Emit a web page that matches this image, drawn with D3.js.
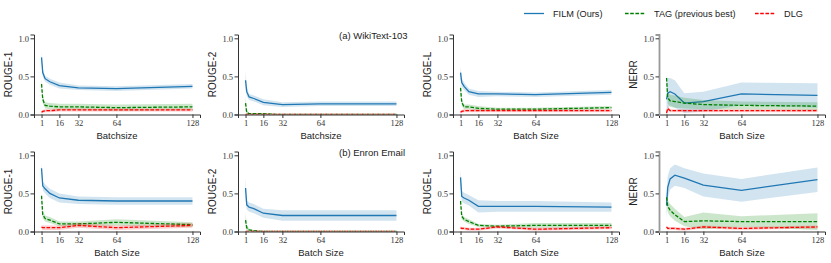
<!DOCTYPE html>
<html lang="en">
<head>
  <meta charset="UTF-8">
  <title>FILM vs TAG vs DLG</title>
  <style>
    body, html { margin: 0; padding: 0; background-color: white; }
    svg { display: block; }
    .tick text { font-family: 'Liberation Serif', serif; font-size: 8.5px; fill: #333; }
    .lbl { font-family: 'Liberation Sans', Arial, sans-serif; fill: #222; }
  </style>
</head>
<body>
  <svg id="svg" width="831" height="263"></svg>
  <script src="https://d3js.org/d3.v7.min.js"></script>
  <script>
    const batch = [1, 2, 4, 8, 16, 32, 64, 128]
    const xTicks = [1, 16, 32, 64, 128]
    const yTicks = [0, 0.5, 1.0]
    const metrics = ['ROUGE-1', 'ROUGE-2', 'ROUGE-L', 'NERR']
    const methods = ['FILM (Ours)', 'TAG (previous best)', 'DLG']
    const rowTitles = ['(a) WikiText-103', '(b) Enron Email']
    const rowXLabels = [['Batchsize', 'Batchsize', 'Batch Size', 'Batch Size'],
                        ['Batch Size', 'Batch Size', 'Batch Size', 'Batch Size']]

    // (a) WikiText-103, one list per metric: R1, R2, RL, NERR
    const wikiFilm = [
      [0.75, 0.55, 0.47, 0.43, 0.38, 0.35, 0.34, 0.37],
      [0.45, 0.30, 0.23, 0.21, 0.16, 0.13, 0.14, 0.14],
      [0.55, 0.42, 0.37, 0.30, 0.27, 0.27, 0.26, 0.29],
      [0.20, 0.28, 0.30, 0.27, 0.15, 0.17, 0.27, 0.25]]
    const wikiFilmSd = [
      [0.07, 0.05, 0.04, 0.04, 0.04, 0.03, 0.03, 0.03],
      [0.12, 0.06, 0.04, 0.04, 0.04, 0.03, 0.03, 0.03],
      [0.08, 0.06, 0.05, 0.04, 0.04, 0.03, 0.03, 0.03],
      [0.28, 0.20, 0.18, 0.18, 0.13, 0.13, 0.15, 0.16]]
    const wikiTag = [
      [0.40, 0.20, 0.12, 0.11, 0.10, 0.10, 0.09, 0.10],
      [0.15, 0.03, 0.01, 0.01, 0.01, 0.00, 0.00, 0.00],
      [0.35, 0.16, 0.10, 0.10, 0.08, 0.07, 0.07, 0.09],
      [0.48, 0.22, 0.18, 0.17, 0.15, 0.13, 0.12, 0.11]]
    const wikiTagSd = [
      [0.07, 0.05, 0.04, 0.04, 0.04, 0.04, 0.04, 0.04],
      [0.10, 0.03, 0.01, 0.01, 0.01, 0.00, 0.00, 0.00],
      [0.09, 0.05, 0.03, 0.03, 0.03, 0.02, 0.02, 0.02],
      [0.05, 0.08, 0.08, 0.08, 0.07, 0.06, 0.05, 0.05]]
    const wikiDlg = [
      [0.03, 0.04, 0.05, 0.05, 0.06, 0.06, 0.06, 0.06],
      [0.00, 0.00, 0.00, 0.00, 0.00, 0.00, 0.00, 0.00],
      [0.03, 0.04, 0.05, 0.05, 0.05, 0.05, 0.05, 0.05],
      [0.02, 0.08, 0.05, 0.05, 0.05, 0.05, 0.05, 0.05]]
    const wikiDlgSd = [
      [0.02, 0.02, 0.02, 0.02, 0.02, 0.02, 0.02, 0.02],
      [0.00, 0.00, 0.00, 0.00, 0.00, 0.00, 0.00, 0.00],
      [0.02, 0.02, 0.02, 0.02, 0.02, 0.02, 0.02, 0.02],
      [0.02, 0.03, 0.02, 0.02, 0.02, 0.02, 0.02, 0.02]]

    // (b) Enron Email
    const enronFilm = [
      [0.83, 0.60, 0.56, 0.50, 0.44, 0.41, 0.40, 0.40],
      [0.57, 0.35, 0.32, 0.30, 0.24, 0.21, 0.21, 0.21],
      [0.71, 0.46, 0.44, 0.41, 0.33, 0.33, 0.33, 0.32],
      [0.34, 0.58, 0.69, 0.74, 0.70, 0.61, 0.54, 0.68]]
    const enronFilmSd = [
      [0.07, 0.06, 0.06, 0.06, 0.06, 0.05, 0.05, 0.05],
      [0.14, 0.06, 0.06, 0.06, 0.06, 0.07, 0.07, 0.07],
      [0.11, 0.07, 0.07, 0.07, 0.08, 0.07, 0.07, 0.06],
      [0.18, 0.15, 0.14, 0.14, 0.13, 0.15, 0.15, 0.16]]
    const enronTag = [
      [0.47, 0.22, 0.17, 0.15, 0.10, 0.10, 0.12, 0.09],
      [0.15, 0.05, 0.02, 0.01, 0.00, 0.00, 0.00, 0.00],
      [0.40, 0.20, 0.16, 0.13, 0.08, 0.07, 0.08, 0.08],
      [0.45, 0.33, 0.28, 0.22, 0.13, 0.14, 0.13, 0.13]]
    const enronTagSd = [
      [0.05, 0.05, 0.04, 0.04, 0.03, 0.03, 0.04, 0.03],
      [0.10, 0.04, 0.02, 0.01, 0.00, 0.00, 0.00, 0.00],
      [0.05, 0.04, 0.03, 0.03, 0.02, 0.02, 0.03, 0.03],
      [0.06, 0.08, 0.08, 0.08, 0.06, 0.11, 0.07, 0.11]]
    const enronDlg = [
      [0.06, 0.05, 0.05, 0.05, 0.05, 0.08, 0.05, 0.08],
      [0.00, 0.00, 0.00, 0.00, 0.00, 0.00, 0.00, 0.00],
      [0.05, 0.04, 0.04, 0.03, 0.03, 0.06, 0.03, 0.05],
      [0.06, 0.04, 0.04, 0.04, 0.03, 0.06, 0.04, 0.06]]
    const enronDlgSd = [
      [0.03, 0.03, 0.03, 0.03, 0.03, 0.03, 0.03, 0.03],
      [0.00, 0.00, 0.00, 0.00, 0.00, 0.00, 0.00, 0.00],
      [0.02, 0.02, 0.02, 0.02, 0.02, 0.02, 0.02, 0.02],
      [0.02, 0.02, 0.02, 0.02, 0.02, 0.02, 0.02, 0.02]]

    const rows = [
      [[wikiFilm, wikiFilmSd], [wikiTag, wikiTagSd], [wikiDlg, wikiDlgSd]],
      [[enronFilm, enronFilmSd], [enronTag, enronTagSd], [enronDlg, enronDlgSd]]
    ]
    const colors = ['#1f77b4', '#008000', '#ff0000']
    const dashes = [null, '3.6,1.6', '3.6,1.6']

    const lefts = [34, 238, 453, 659]
    const tops = [34.5, 151.5]
    const w = 166, h = 80

    const svg = d3.select('#svg')
    const defs = svg.append('defs')

    rows.forEach((row, r) => {
      const y = d3.scaleLinear().domain([0, 1.05]).range([tops[r] + h, tops[r]])
      metrics.forEach((m, c) => {
        const x = d3.scaleLinear().domain([-5.35, 134.35]).range([lefts[c], lefts[c] + w])
        const clipId = `clip-${r}-${c}`
        defs.append('clipPath').attr('id', clipId)
          .append('rect')
          .attr('x', lefts[c]).attr('y', tops[r]).attr('width', w).attr('height', h)
        const g = svg.append('g').attr('clip-path', `url(#${clipId})`)

        row.forEach(([means, sds], k) => {
          const pts = batch.map((b, i) => ({ b: b, v: means[c][i], s: sds[c][i] }))
          g.append('path')
            .datum(pts)
            .attr('fill', colors[k])
            .attr('fill-opacity', 0.2)
            .attr('d', d3.area().x(d => x(d.b)).y0(d => y(d.v - d.s)).y1(d => y(d.v + d.s)))
          g.append('path')
            .datum(pts)
            .attr('fill', 'none')
            .attr('stroke', colors[k])
            .attr('stroke-width', 1.3)
            .attr('stroke-dasharray', dashes[k])
            .attr('d', d3.line().x(d => x(d.b)).y(d => y(d.v)))
        })

        const spine = c === 3 ? '#999' : '#333'
        const spineW = c === 3 ? 1.8 : 1
        const xAxis = svg.append('g')
          .attr('transform', `translate(0, ${tops[r] + h})`)
          .call(d3.axisBottom(x).tickValues(xTicks).tickSizeOuter(0).tickSize(3.5).tickPadding(2))
        xAxis.select('.domain').attr('stroke', '#333')
        xAxis.selectAll('.tick line').attr('stroke', '#333')
        const yAxis = svg.append('g')
          .attr('transform', `translate(${lefts[c]}, 0)`)
          .call(d3.axisLeft(y).tickValues(yTicks).tickFormat(d3.format('.1f')).tickSizeOuter(0).tickSize(3.5).tickPadding(1.5))
        yAxis.select('.domain').attr('stroke', spine).attr('stroke-width', spineW)
        yAxis.selectAll('.tick line').attr('stroke', '#333')

        svg.append('text').attr('class', 'lbl')
          .attr('x', lefts[c] + w / 2)
          .attr('y', tops[r] + h + 24)
          .attr('text-anchor', 'middle')
          .style('font-size', '9.5px')
          .text(rowXLabels[r][c])
        svg.append('text').attr('class', 'lbl')
          .attr('transform', `translate(${lefts[c] - 22}, ${tops[r] + h / 2}) rotate(-90)`)
          .attr('text-anchor', 'middle')
          .style('font-size', '10px')
          .text(m)
      })
      svg.append('text').attr('class', 'lbl')
        .attr('x', 339)
        .attr('y', tops[r] + 4)
        .style('font-size', '9.5px')
        .text(rowTitles[r])
    })

    // legend
    const legX = [524, 625, 755]
    methods.forEach((name, k) => {
      svg.append('line')
        .attr('x1', legX[k]).attr('x2', legX[k] + 20)
        .attr('y1', 13.5).attr('y2', 13.5)
        .attr('stroke', colors[k])
        .attr('stroke-width', 1.3)
        .attr('stroke-dasharray', dashes[k])
      svg.append('text').attr('class', 'lbl')
        .attr('x', legX[k] + 29)
        .attr('y', 17)
        .style('font-size', '9.2px')
        .text(name)
    })
  </script>
</body>
</html>
